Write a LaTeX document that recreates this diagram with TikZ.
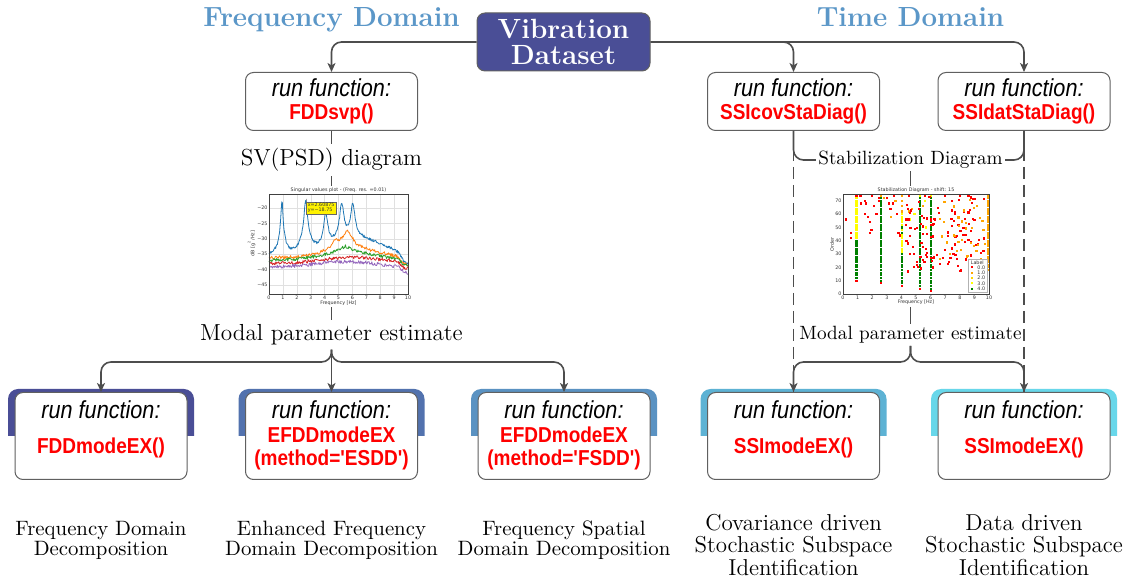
\documentclass[tikz,border=0pt]{standalone}
\usepackage{fontspec}
\newfontfamily\fnsans[FakeStretch=0.88, Ligatures=TeXOff]{Liberation Sans}
\newfontfamily\plotsans{DejaVu Sans}
\usetikzlibrary{arrows.meta}

\definecolor{titleblue}{HTML}{5B97C8}
\definecolor{vdblue}{HTML}{4A4E96}
\definecolor{linegrey}{HTML}{4D4D4D}
\definecolor{boxgrey}{HTML}{606060}
\definecolor{tabA}{HTML}{4A4E96}
\definecolor{tabB}{HTML}{5272AE}
\definecolor{tabC}{HTML}{5A92C2}
\definecolor{tabD}{HTML}{5DB2D4}
\definecolor{tabE}{HTML}{68D7EA}
\definecolor{c1}{HTML}{1F77B4}
\definecolor{c2}{HTML}{FF7F0E}
\definecolor{c3}{HTML}{2CA02C}
\definecolor{c4}{HTML}{D62728}
\definecolor{c5}{HTML}{9467BD}
\definecolor{stgreen}{HTML}{008000}
\definecolor{storange}{HTML}{FFA500}
\definecolor{stgold}{HTML}{FFD700}
\definecolor{styellow}{HTML}{FFFF00}

\tikzset{
  conn/.style={draw=linegrey, line width=0.8pt, -{Stealth[length=4.5pt,width=4pt,inset=1.2pt]}},
  link/.style={draw=linegrey, line width=0.8pt},
  dashlink/.style={draw=linegrey, line width=0.8pt, dash pattern=on 6pt off 3pt},
  domaintitle/.style={font=\bfseries\fontsize{13.85}{15}\selectfont, text=titleblue, anchor=base},
  srcbox/.style={draw=boxgrey, fill=vdblue, rounded corners=4pt, minimum width=86.5pt,
    minimum height=29pt, line width=0.5pt, text=white, align=center, inner sep=2pt,
    font=\bfseries\fontsize{13.9}{13}\selectfont},
  fnbox/.style={draw=boxgrey, fill=white, rounded corners=4pt, minimum width=86pt,
    minimum height=29pt, line width=0.5pt, align=center, inner sep=0pt,
    font=\fnsans\fontsize{12.3}{11.5}\selectfont},
  modebox/.style={draw=boxgrey, fill=white, rounded corners=4pt, minimum width=86pt,
    minimum height=43.5pt, line width=0.5pt},
  rfn/.style={font=\fnsans\itshape\fontsize{12.3}{11.5}\selectfont, inner sep=0pt},
  fname/.style={font=\fnsans\bfseries\fontsize{10.8}{11.5}\selectfont, text=red,
    align=center, inner sep=0pt},
  steplabel/.style={font=\fontsize{11.6}{13}\selectfont, inner sep=2pt},
  smalllabel/.style={font=\fontsize{9.6}{11}\selectfont, inner sep=1pt},
  methodA/.style={align=center, font=\fontsize{10.4}{10}\selectfont},
  methodB/.style={align=center, font=\fontsize{11.5}{11.25}\selectfont},
  plotarea/.style={inner sep=0pt},
  gridline/.style={draw=black!12, line width=0.15pt},
  axisframe/.style={draw=black!75, line width=0.25pt},
  curve/.style={line width=0.4pt, line join=round},
  ticklab/.style={font=\plotsans\fontsize{2.4}{2.7}\selectfont, inner sep=0.6pt, text=black!80},
  declare function={
    lz(\f,\c,\w)=(\w*\w)/(\w*\w+(\f-\c)*(\f-\c));
    edge(\f)=0.0625/(0.0625+(10-\f)*(10-\f)*(10-\f)*(10-\f));
    blue(\f)=-35.5+5*exp(-((\f-6.5)/2.6)^2)-3.5*edge(\f)
      +10*log10(1+63*lz(\f,0.93,0.05)+56*lz(\f,2.64,0.08)+15*lz(\f,4.08,0.1)
      +21*lz(\f,5.23,0.1)+17*lz(\f,6.02,0.1));
    orng(\f)=-36.2+2.8*exp(-((\f-6)/2.6)^2)-2.5*edge(\f)
      +10*log10(1+3*lz(\f,5.65,0.3)+1*lz(\f,4.8,0.35));
    grn(\f)=-37+2.5*exp(-((\f-5.8)/2.8)^2)-2*edge(\f)+10*log10(1+0.6*lz(\f,5.5,0.5));
    rd(\f)=-38+2*exp(-((\f-6)/3)^2)-2*edge(\f);
    prp(\f)=-39.2+1.8*exp(-((\f-5.5)/3)^2)-2*edge(\f);
  }
}

% coloured tab behind a mode-extraction box
\newcommand\modetab[2]{%
  \begin{scope}
    \clip ({#1-100},380) rectangle ({#1+100},436);
    \fill[#2, rounded corners=5pt] ({#1-93},389) rectangle ({#1+93},470);
  \end{scope}}
% one marker of the stabilization diagram
\newcommand\sdot[3]{\fill[#1] ([xshift=-0.55pt,yshift=-0.55pt]#2,#3) rectangle ++(1.1pt,1.1pt);}

\begin{document}
\begin{tikzpicture}[x=0.5pt,y=-0.5pt]
\useasboundingbox (0,0) rectangle (1133,581);
\fill[white] (0,0) rectangle (1133,581);

% headings
\node[domaintitle] (fdtitle) at (331.5,27) {Frequency Domain};
\node[domaintitle] (tdtitle) at (910.5,27) {Time Domain};

% data source
\node[srcbox] (vd) at (563.5,42) {Vibration\\Dataset};

% first-stage functions
\node[fnbox] (fdd) at (331.5,101.5) {{\itshape run function:}\\{\bfseries\color{red}\fontsize{10.8}{11.5}\selectfont FDDsvp()}};
\node[fnbox] (ssicov) at (793.5,101.5) {{\itshape run function:}\\{\bfseries\color{red}\fontsize{10.8}{11.5}\selectfont SSIcovStaDiag()}};
\node[fnbox] (ssidat) at (1024,101.5) {{\itshape run function:}\\{\bfseries\color{red}\fontsize{10.8}{11.5}\selectfont SSIdatStaDiag()}};

% intermediate labels
\node[steplabel] (svlab) at (331.5,160) {SV(PSD) diagram};
\node[smalllabel] (stab) at (910.5,160) {Stabilization Diagram};
\node[steplabel] (mpl) at (331.5,335) {Modal parameter estimate};
\node[smalllabel] (mpr) at (910.5,335) {Modal parameter estimate};
\coordinate (lsplit) at (331.5,362);
\coordinate (rsplit) at (910.5,362);

% plot areas
\node[plotarea, minimum width=81.5pt, minimum height=60.5pt] (lplot) at (331.5,246.5) {};
\node[plotarea, minimum width=84pt, minimum height=60.5pt] (rplot) at (910.5,246.5) {};

% mode-extraction boxes
\modetab{101}{tabA}
\modetab{331.5}{tabB}
\modetab{564}{tabC}
\modetab{793.5}{tabD}
\modetab{1024}{tabE}
\node[modebox] (b1) at (101,436) {};
\node[modebox] (b2) at (331.5,436) {};
\node[modebox] (b3) at (564,436) {};
\node[modebox] (b4) at (793.5,436) {};
\node[modebox] (b5) at (1024,436) {};
\node[rfn] (b1r) at (101,410) {run function:};
\node[rfn] (b2r) at (331.5,410) {run function:};
\node[rfn] (b3r) at (564,410) {run function:};
\node[rfn] (b4r) at (793.5,410) {run function:};
\node[rfn] (b5r) at (1024,410) {run function:};
\node[fname] (b1f) at (101,448) {FDDmodeEX()};
\node[fname] (b2f) at (331.5,448.5) {EFDDmodeEX\\(method='ESDD')};
\node[fname] (b3f) at (564,448.5) {EFDDmodeEX\\(method='FSDD')};
\node[fname] (b4f) at (793.5,448) {SSImodeEX()};
\node[fname] (b5f) at (1024,448) {SSImodeEX()};

% method names
\node[methodA] (m1) at (101,540) {Frequency Domain\\Decomposition};
\node[methodA] (m2) at (331.5,540) {Enhanced Frequency\\Domain Decomposition};
\node[methodA] (m3) at (564,540) {Frequency Spatial\\Domain Decomposition};
\node[methodB] (m4) at (793.5,545) {Covariance driven\\Stochastic Subspace\\Identification};
\node[methodB] (m5) at (1024,545) {Data driven\\Stochastic Subspace\\Identification};

% ---- singular values plot ----
\begin{scope}[shift={(269,208)}, x=6.95pt, y=1.54pt]
  \foreach \f in {0,...,10} \draw[gridline] (\f,-27.9) -- (\f,4.55);
  \foreach \d in {0,-5,-10,-15,-20,-25} \draw[gridline] (0,\d) -- (10,\d);
  \draw[c1, curve] plot[domain=0:10, samples=251] (\x, {blue(\x)+20+0.45*rand});
  \draw[c2, curve] plot[domain=0:10, samples=201] (\x, {orng(\x)+20+0.55*rand});
  \draw[c3, curve] plot[domain=0:10, samples=201] (\x, {grn(\x)+20+0.55*rand});
  \draw[c4, curve] plot[domain=0:10, samples=201] (\x, {rd(\x)+20+0.55*rand});
  \draw[c5, curve] plot[domain=0:10, samples=201] (\x, {prp(\x)+20+0.55*rand});
  \draw[axisframe] (0,-27.9) rectangle (10,4.55);
  \foreach \f in {0,...,10} \node[ticklab, below] at (\f,-27.9) {\f};
  \foreach \d/\l in {0/20,-5/25,-10/30,-15/35,-20/40,-25/45} \node[ticklab, left] at (0,\d) {−\l};
  \node[ticklab, above] (ltitle) at (5,4.55) {Singular values plot - (Freq. res. =0.01)};
  \node[ticklab] (lxlab) at (5,-30.8) {Frequency [Hz]};
  \node[ticklab, rotate=90] (lylab) at (-1.25,-11.5) {dB [g\textsuperscript{2}/Hz]};
  \node[ticklab, fill=yellow, draw=black!60, line width=0.08pt, align=left, inner sep=0.7pt] (ann) at (3.75,0) {x=2.60875\\y=−18.75};
  \draw[line width=0.15pt] (ann.north west) -- (2.68,3);
\end{scope}

% ---- stabilization diagram ----
\begin{scope}[shift={(843,294)}, x=7.3pt, y=0.665pt]
  % stable columns
  \sdot{red}{0.92}{10}
  \foreach \o in {12,14,...,40} {\sdot{stgreen}{0.92}{\o}}
  \foreach \o in {42,44,...,72} {\sdot{styellow}{0.92}{\o}}
  \sdot{red}{0.92}{74}
  \sdot{red}{2.6}{8}
  \foreach \o in {10,12,...,72} {\sdot{stgreen}{2.6}{\o}}
  \sdot{storange}{2.6}{74}
  \sdot{red}{4.05}{6}
  \foreach \o in {8,10,...,30} {\sdot{stgreen}{4.05}{\o}}
  \foreach \o in {32,34,...,60} {\sdot{styellow}{4.05}{\o}}
  \foreach \o in {46,50} {\sdot{stgreen}{4.05}{\o}}
  \foreach \o in {62,66,70,74} {\sdot{storange}{4.05}{\o}}
  \sdot{red}{5.25}{4}
  \foreach \o in {6,8,...,72} {\sdot{stgreen}{5.25}{\o}}
  \sdot{styellow}{5.25}{74}
  \sdot{red}{6.0}{2}
  \foreach \o in {4,6,...,72} {\sdot{stgreen}{6.0}{\o}}
  \sdot{styellow}{6.0}{74}
  \foreach \o in {18,20,...,74} {\sdot{storange}{9.92}{\o}}
  % scattered poles
  \foreach \pf/\po in {0.2/56,0.55/46,0.55/42,1.25/68,1.5/70,1.6/68,1.5/60,1.7/58,1.85/54,
      1.85/46,1.95/48,2.1/66,2.3/60,2.45/70,2.45/72,3.0/72,3.15/68,3.25/64,3.4/68,3.7/60,
      3.8/46,3.9/44,4.3/56,4.3/52,4.35/40,4.45/38,4.6/30,4.85/30,5.05/22,5.15/20,1.2/74,
      2.0/74,3.5/74,4.5/74,5.6/74,7.0/74,8.0/74,8.6/74}
    {\sdot{red}{\pf}{\po}}
  \foreach \pf/\po in {3.3/58,4.5/62,4.7/64,5.5/66,2.8/72,3.6/70}
    {\sdot{storange}{\pf}{\po}}
  \foreach \pf/\po in {4.6/56,4.9/60,5.6/70,5.7/50}
    {\sdot{styellow}{\pf}{\po}}
  \pgfmathsetseed{11}
  \foreach \i in {1,...,110}{
    \pgfmathsetmacro\rf{4.4+5.4*rnd}
    \pgfmathsetmacro\ro{16+58*rnd}
    \sdot{red}{\rf}{\ro}
  }
  \foreach \i in {1,...,35}{
    \pgfmathsetmacro\rf{6.6+3.2*rnd}
    \pgfmathsetmacro\ro{26+48*rnd}
    \sdot{storange}{\rf}{\ro}
  }
  \draw[axisframe] (0,0) rectangle (10,75);
  \foreach \f in {0,...,10} \node[ticklab, below] at (\f,0) {\f};
  \foreach \o in {0,10,...,70} \node[ticklab, left] at (0,\o) {\o};
  \node[ticklab, above] (rtitle) at (5,75) {Stabilization Diagram - shift: 15};
  \node[ticklab] (rxlab) at (5,-6) {Frequency [Hz]};
  \node[ticklab, rotate=90] (rylab) at (-0.75,37) {Order};
  % legend
  \draw[fill=white, draw=black!30, line width=0.15pt] (8.55,1.5) rectangle (9.86,26);
  \node[ticklab] (legtitle) at (9.2,23.5) {Label};
  \foreach \lc/\lt/\lo in {red/0.0/20, storange/1.0/16, stgold/2.0/12, styellow/3.0/8, stgreen/4.0/4}{
    \sdot{\lc}{8.85}{\lo}
    \node[ticklab, anchor=west] at (9.1,\lo) {\lt};
  }
\end{scope}

% connectors
\draw[conn, rounded corners=5pt] (vd.west) -| (fdd.north);
\draw[conn, rounded corners=5pt] (vd.east) -| (ssidat.north);
\draw[conn, rounded corners=5pt] (vd.east) -| (ssicov.north);
\draw[link] (fdd.south) -- (svlab.north);
\draw[link] (svlab.south) -- (lplot.north);
\draw[link] (lplot.south) -- (mpl.north);
\draw[conn, rounded corners=5pt] (mpl.south) -- (lsplit) -| (b1.north);
\draw[conn, rounded corners=5pt] (mpl.south) -- (lsplit) -| (b3.north);
\draw[conn] (mpl.south) -- (b2.north);
\draw[link, rounded corners=5pt] (ssicov.south) |- (stab.west);
\draw[link, rounded corners=5pt] (ssidat.south) |- (stab.east);
\draw[link] (stab.south) -- (rplot.north);
\draw[link] (rplot.south) -- (mpr.north);
\draw[dashlink] (ssicov.south) -- (b4.north);
\draw[dashlink] (ssidat.south) -- (b5.north);
\draw[conn, rounded corners=5pt] (mpr.south) -- (rsplit) -| (b4.north);
\draw[conn, rounded corners=5pt] (mpr.south) -- (rsplit) -| (b5.north);
\end{tikzpicture}
\end{document}
